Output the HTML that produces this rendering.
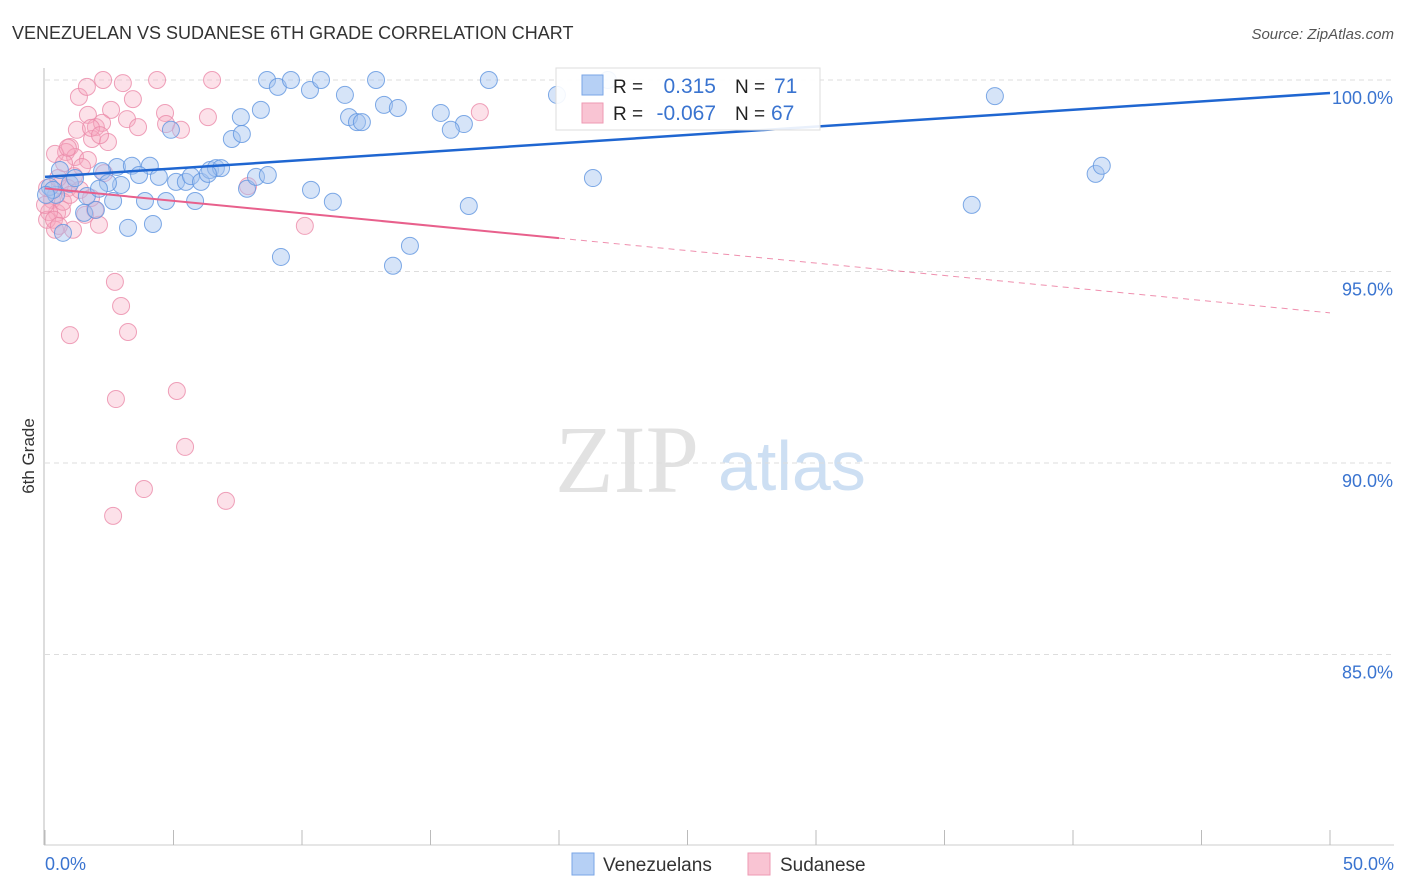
<!DOCTYPE html>
<html><head><meta charset="utf-8"><style>
body{margin:0;background:#fff;font-family:"Liberation Sans",sans-serif}
svg{display:block}
</style></head><body>
<svg id="chart" width="1406" height="892">
<text x="12" y="39" font-size="18" fill="#333">VENEZUELAN VS SUDANESE 6TH GRADE CORRELATION CHART</text>
<text x="1394" y="39" font-size="15" font-style="italic" fill="#555" text-anchor="end">Source: ZipAtlas.com</text>
<text x="34" y="456" font-size="17" fill="#333" text-anchor="middle" transform="rotate(-90 34 456)">6th Grade</text>
<g>
<text x="555" y="492" font-size="96" font-family="Liberation Serif,serif" fill="#e2e2e2">ZIP</text>
<text x="718" y="490" font-size="70" fill="#cddff3">atlas</text>
</g>
<g id="grid"></g>
<g id="axes"></g>
<g id="marks"></g>
<g>
<rect x="556" y="68" width="264" height="62" fill="#fff" fill-opacity="0.9" stroke="#ddd"/>
<rect x="582" y="75" width="21" height="20" fill="#b6d0f5" stroke="#7aa6e6"/>
<rect x="582" y="103" width="21" height="20" fill="#f9c4d3" stroke="#ee9ab3"/>
<text x="613" y="93" font-size="19" fill="#222">R = </text>
<text x="716" y="93" font-size="21" fill="#3a74d0" text-anchor="end">0.315</text>
<text x="735" y="93" font-size="19" fill="#222">N = </text>
<text x="774" y="93" font-size="21" fill="#3a74d0">71</text>
<text x="613" y="120" font-size="19" fill="#222">R = </text>
<text x="716" y="120" font-size="21" fill="#3a74d0" text-anchor="end">-0.067</text>
<text x="735" y="120" font-size="19" fill="#222">N = </text>
<text x="771" y="120" font-size="21" fill="#3a74d0">67</text>
</g>
<g>
<rect x="572" y="853" width="22" height="22" fill="#b6d0f5" stroke="#7aa6e6"/>
<text x="603" y="871" font-size="19" fill="#333">Venezuelans</text>
<rect x="748" y="853" width="22" height="22" fill="#f9c4d3" stroke="#ee9ab3"/>
<text x="780" y="871" font-size="19" fill="#333">Sudanese</text>
</g>
</svg>
<script>
const yTicks=[100,95,90,85];
const yTickLabels=["100.0%","95.0%","90.0%","85.0%"];
const xTickLabels=["0.0%","50.0%"];
const venX=[8.64,9.06,9.57,10.31,10.74,11.67,12.88,13.19,13.73,11.83,12.14,12.33,15.40,16.30,15.79,17.27,19.92,21.90,7.62,8.40,7.27,7.66,4.90,0.70,1.52,1.98,3.23,4.20,2.65,3.89,4.71,5.84,2.80,3.38,4.08,2.22,3.66,4.43,5.10,5.48,5.68,6.07,6.42,6.65,6.85,6.34,7.86,8.21,8.67,10.35,11.20,9.18,13.54,14.20,16.49,21.32,36.96,36.06,40.88,41.12,1.63,0.97,0.43,0.19,0.31,2.96,1.17,0.58,2.45,2.10,0.04];
const venY=[100,99.82,100,99.74,100,99.61,100,99.35,99.27,99.03,98.90,98.90,99.14,98.85,98.70,100,99.61,100,99.03,99.22,98.46,98.59,98.70,96.01,96.53,96.61,96.14,96.24,96.84,96.84,96.84,96.84,97.73,97.76,97.76,97.62,97.52,97.47,97.34,97.34,97.49,97.34,97.65,97.70,97.70,97.55,97.16,97.47,97.52,97.13,96.82,95.38,95.15,95.67,96.71,97.44,99.58,96.74,97.55,97.76,96.97,97.29,97.00,97.21,97.13,97.26,97.44,97.65,97.31,97.16,97.00];
const sudX=[2.26,3.03,4.36,6.50,1.32,1.63,3.42,2.57,4.67,6.34,5.29,1.67,3.19,3.62,16.92,4.71,1.24,1.98,2.22,1.83,2.45,0.97,0.82,0.39,1.17,1.67,1.44,1.13,0.58,0.08,0.27,0.47,0.66,1.09,2.10,1.56,1.95,0.16,0.39,0.08,10.11,7.90,2.30,0.89,0.51,0,2.72,2.96,3.23,0.97,2.76,5.13,5.45,3.85,2.65,7.04,0.70,0.97,1.36,1.79,0.74,0.89,1.79,2.14,0.35,0.54];
const sudY=[100,99.92,100,100,99.56,99.82,99.50,99.22,99.14,99.03,98.70,99.09,98.98,98.77,99.16,98.85,98.70,98.77,98.88,98.46,98.38,98.25,98.12,98.07,97.99,97.91,97.73,97.49,97.26,97.18,96.87,96.53,96.61,96.09,96.22,96.48,96.61,96.55,96.09,96.35,96.19,97.23,97.57,97.18,97.44,96.74,94.73,94.10,93.42,93.34,91.67,91.88,90.42,89.32,88.62,89.01,96.82,97.00,97.13,96.92,97.83,98.23,98.75,98.56,96.35,96.19];
const venTrend=[97.47,99.66];
const sudTrend=[97.17,93.92];
const sudSolidEnd=20;
const NS="http://www.w3.org/2000/svg";
const sx=v=>45+v/50*1285;
const sy=v=>80+(100-v)*38.3;
function mk(tag,attrs,parent){const e=document.createElementNS(NS,tag);for(const k in attrs)e.setAttribute(k,attrs[k]);document.getElementById(parent).appendChild(e);return e;}
yTicks.forEach((t,i)=>{
 const g=mk('line',{x1:45,x2:1394,y1:sy(t),y2:sy(t),stroke:'#ddd','stroke-dasharray':'5,4'},'grid');
 
 
 const l=mk('text',{x:1393,y:sy(t)+24,'font-size':18,fill:'#3a74d0','text-anchor':'end'},'grid');
 l.textContent=yTickLabels[i];
 
 
});
const ax=mk('line',{x1:44,x2:44,y1:68,y2:845,stroke:'#bbb'},'axes');


const bx=mk('line',{x1:44,x2:1394,y1:845,y2:845,stroke:'#ccc'},'axes');


for(let i=0;i<=10;i++){
 const t=mk('line',{x1:sx(i*5),x2:sx(i*5),y1:830,y2:845,stroke:'#bbb'},'axes');
 
 
}
const x0=mk('text',{x:45,y:870,'font-size':18,fill:'#3a74d0'},'axes');x0.textContent=xTickLabels[0];


const x1=mk('text',{x:1394,y:870,'font-size':18,fill:'#3a74d0','text-anchor':'end'},'axes');x1.textContent=xTickLabels[1];


sudX.forEach((v,i)=>{
 const c=mk('circle',{cx:sx(v),cy:sy(sudY[i]),r:8.5,fill:'#f6a8c0','fill-opacity':0.35,stroke:'#eb8aa9','stroke-opacity':0.8,'stroke-width':1},'marks');
 
 
});
venX.forEach((v,i)=>{
 const c=mk('circle',{cx:sx(v),cy:sy(venY[i]),r:8.5,fill:'#a3c4f0','fill-opacity':0.45,stroke:'#5f95e0','stroke-opacity':0.8,'stroke-width':1},'marks');
 
 
});
const sAt=x=>sudTrend[0]+(sudTrend[1]-sudTrend[0])*x/50;
const ps=mk('line',{x1:sx(0),y1:sy(sudTrend[0]),x2:sx(sudSolidEnd),y2:sy(sAt(sudSolidEnd)),stroke:'#e8608c','stroke-width':2},'marks');


const pd=mk('line',{x1:sx(sudSolidEnd),y1:sy(sAt(sudSolidEnd)),x2:sx(50),y2:sy(sudTrend[1]),stroke:'#e8608c','stroke-width':1,'stroke-dasharray':'6,5','stroke-opacity':0.7},'marks');


const bl=mk('line',{x1:sx(0),y1:sy(venTrend[0]),x2:sx(50),y2:sy(venTrend[1]),stroke:'#1f66d1','stroke-width':2.5},'marks');


</script>
</body></html>
